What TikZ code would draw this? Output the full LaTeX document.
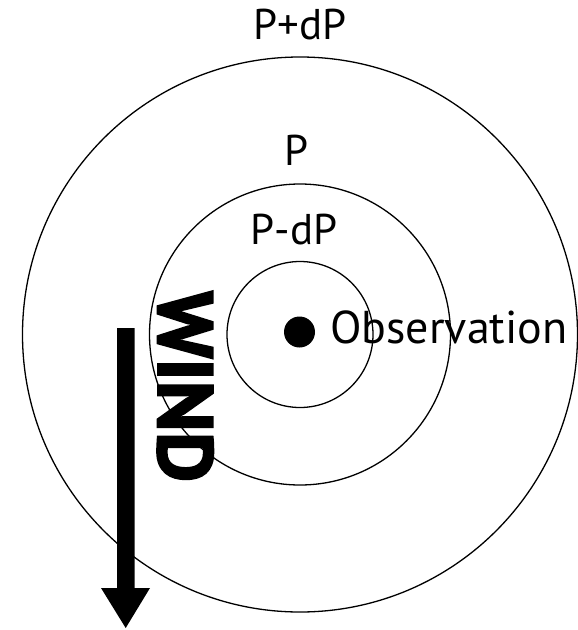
\documentclass[tikz,border=0pt]{standalone}
\usepackage{fontspec}
\setmainfont{PT Sans}
\newfontfamily\windfont{PT Sans Bold}[FakeBold=2.5]
\begin{document}
\begin{tikzpicture}[x=1pt,y=-1pt,
  ring/.style={draw, line width=1.3pt},
  lbl/.style={inner sep=0pt, anchor=base, font=\fontsize{43}{43}\selectfont}]
\useasboundingbox (0,0) rectangle (578,630);
\coordinate (c) at (300,334.5);
\draw[ring] (c) circle[radius=277.5pt];
\draw[ring] (c) circle[radius=150.5pt];
\draw[ring] (c) circle[radius=73pt];
\node[circle, fill, minimum size=31pt, inner sep=0pt] (dot) at (299.5,332) {};
\node[lbl] (ppdp) at (300,39.5) {P+dP};
\node[lbl] (p) at (297,165.7) {P};
\node[lbl] (pmdp) at (294,244) {P-dP};
\node[lbl, anchor=base west, font=\fontsize{46}{46}\selectfont] (obs) at (330,343.3) {Observation};
\node[inner sep=0pt, anchor=base west, rotate=-90, font=\windfont\fontsize{74}{74}\selectfont] (wind) at (158,291) {\resizebox{191pt}{!}{WIND}};
\fill (117,328) -- (134.5,328) -- (134.5,588) -- (150,588) -- (125.7,628) -- (101,588) -- (117,588) -- cycle;
\end{tikzpicture}
\end{document}
